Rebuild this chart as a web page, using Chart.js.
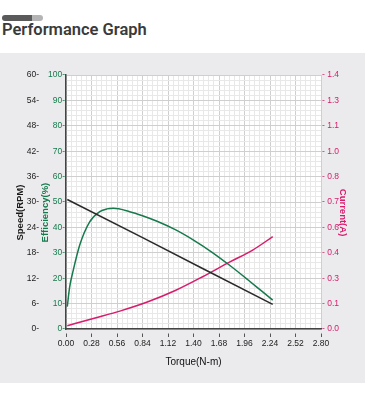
<!DOCTYPE html>
<html>
<head>
<meta charset="utf-8">
<script src="https://cdn.jsdelivr.net/npm/chart.js@4.4.0/dist/chart.umd.min.js"></script>
<style>
  html, body { margin: 0; padding: 0; background: #fff; width: 376px; height: 397px; overflow: hidden; }
  .pill { position: absolute; left: 2px; top: 15px; width: 41px; height: 6px; border-radius: 3px;
          background: linear-gradient(to right, #5a5a5a 0, #5a5a5a 74%, #b4b4b4 74%, #b4b4b4 100%); }
  h1 { position: absolute; left: 2px; top: 20px; margin: 0; font: 600 16.5px Roboto, sans-serif; color: #3a3a3a; }
  #panel { position: absolute; left: 0; top: 53px; width: 365px; height: 330px; background: #ebebed; }
</style>
</head>
<body>
<div class="pill"></div>
<h1>Performance Graph</h1>
<div id="panel"><canvas id="perf-chart" width="365" height="330"></canvas></div>
<script>
// tick labels
const torqueLabels = ['0.00', '0.28', '0.56', '0.84', '1.12', '1.40', '1.68', '1.96', '2.24', '2.52', '2.80'];
const speedTicks = [0, 6, 12, 18, 24, 30, 36, 42, 48, 54, 60];
const effTicks = [0, 10, 20, 30, 40, 50, 60, 70, 80, 90, 100];
const currentTicks = [0, 0.14, 0.28, 0.42, 0.56, 0.70, 0.84, 0.98, 1.12, 1.26, 1.40];
const currentLabels = ['0.0', '0.1', '0.3', '0.4', '0.6', '0.7', '0.8', '1.0', '1.1', '1.3', '1.4'];

// series (torque in N-m)
const speedTorque = [0.014, 0.83, 1.5, 2.27];
const speedRpm = [30.6, 21.7, 14.3, 5.8];

const effTorque = [0.014, 0.04, 0.08, 0.15, 0.26, 0.37, 0.45, 0.52, 0.7, 0.84, 1.0, 1.2, 1.4, 1.6, 1.8, 2.0, 2.15, 2.27];
const effPct = [8.8, 16.5, 23.2, 33, 42.2, 46.2, 47.3, 47.5, 46.2, 44.6, 42.4, 39.1, 35.0, 30.3, 25.0, 19.3, 14.9, 11.4];

const curTorque = [0.014, 0.3, 0.6, 0.9, 1.2, 1.5, 1.8, 2.05, 2.27];
const curAmp = [0.018, 0.058, 0.1, 0.15, 0.212, 0.288, 0.37, 0.435, 0.509];

const GREEN = '#167a4c';
const PINK = '#d81b6b';
const MAJOR = '#cfcfcf';
const MINOR = '#e8e8e8';
const PAD = '\u00a0'.repeat(8); // nudges the rotated axis titles a bit lower, like the original

// fine grid: 5 subdivisions per labelled tick
const subTicks = (max) => Array.from({ length: 51 }, (_, i) => ({ value: max * i / 50 }));
const pts = (xs, ys) => xs.map((x, i) => ({ x, y: ys[i] }));

const whiteArea = {
    id: 'whiteArea',
    beforeDraw(chart) {
        const { ctx, chartArea: a } = chart;
        ctx.save();
        ctx.fillStyle = '#fff';
        ctx.fillRect(a.left, a.top, a.right - a.left, a.bottom - a.top);
        ctx.restore();
    }
};

const tickFont = { family: 'Liberation Sans, Arial, sans-serif', size: 8.5 };
const titleFont = { family: 'Liberation Sans, Arial, sans-serif', size: 9.5, weight: 'bold', lineHeight: 1 };

new Chart(document.getElementById('perf-chart'), {
    type: 'line',
    data: {
        datasets: [
            { label: 'Speed', data: pts(speedTorque, speedRpm), yAxisID: 'speed',
              borderColor: '#2a2a2a', borderWidth: 1.5, pointRadius: 0, tension: 0 },
            { label: 'Efficiency', data: pts(effTorque, effPct), yAxisID: 'eff',
              borderColor: GREEN, borderWidth: 1.5, pointRadius: 0, cubicInterpolationMode: 'monotone' },
            { label: 'Current', data: pts(curTorque, curAmp), yAxisID: 'cur',
              borderColor: PINK, borderWidth: 1.5, pointRadius: 0, cubicInterpolationMode: 'monotone' }
        ]
    },
    options: {
        responsive: false,
        animation: false,
        layout: { padding: { top: 22, left: 0, right: 0, bottom: 14 } },
        plugins: { legend: { display: false }, tooltip: { enabled: false } },
        scales: {
            x: {
                type: 'linear', min: 0, max: 2.8,
                afterBuildTicks: s => { s.ticks = subTicks(2.8); },
                afterFit: s => { s.height = 40; },
                border: { color: '#444', width: 1.5 },
                grid: {
                    color: c => c.index % 5 === 0 ? MAJOR : MINOR,
                    drawTicks: true, tickLength: 8, tickBorderDash: [0, 4, 4],
                    tickColor: c => c.index % 5 === 0 ? '#555' : 'rgba(0,0,0,0)'
                },
                ticks: {
                    autoSkip: false, maxRotation: 0, padding: 2, color: '#222',
                    font: tickFont,
                    callback: (v, i) => i % 5 === 0 ? torqueLabels[i / 5] : ''
                },
                title: { display: true, text: 'Torque(N-m)', color: '#111',
                         font: { ...titleFont, weight: 'normal', size: 10 },
                         padding: { top: 0, bottom: 2 } }
            },
            speed: {
                type: 'linear', position: 'left', weight: 1, min: 0, max: 60,
                afterBuildTicks: s => { s.ticks = subTicks(60); },
                afterFit: s => { s.width = 41; },
                border: { display: false },
                grid: { color: c => c.index % 5 === 0 ? MAJOR : MINOR, drawTicks: false },
                ticks: {
                    autoSkip: false, padding: 2, color: '#222', font: tickFont,
                    callback: (v, i) => i % 5 === 0 ? speedTicks[i / 5] + '-' : ''
                },
                title: { display: true, text: 'Speed(RPM)' + PAD, color: '#1a1a1a', font: titleFont,
                         padding: { top: 15.5, bottom: 0 } }
            },
            eff: {
                type: 'linear', position: 'left', weight: 0, min: 0, max: 100,
                afterBuildTicks: s => { s.ticks = effTicks.map(value => ({ value })); },
                afterFit: s => { s.width = 25; },
                border: { display: true, color: '#444', width: 1.5 },
                grid: { drawOnChartArea: false, drawTicks: false },
                ticks: {
                    autoSkip: false, padding: 1, color: GREEN, font: tickFont,
                    callback: (v, i) => effTicks[i] + '-'
                },
                title: { display: true, text: 'Efficiency(%)' + PAD, color: GREEN, font: titleFont,
                         padding: { top: 0, bottom: 0 } }
            },
            cur: {
                type: 'linear', position: 'right', min: 0, max: 1.4,
                afterBuildTicks: s => { s.ticks = currentTicks.map(value => ({ value })); },
                afterFit: s => { s.width = 44; },
                border: { display: false },
                grid: { drawOnChartArea: false, drawTicks: false },
                ticks: {
                    autoSkip: false, padding: 1, color: PINK, font: tickFont,
                    callback: (v, i) => '- ' + currentLabels[i]
                },
                title: { display: true, text: PAD + 'Current(A)', color: PINK, font: titleFont,
                         padding: { top: 17.5, bottom: 0 } }
            }
        }
    },
    plugins: [whiteArea]
});
</script>
</body>
</html>
